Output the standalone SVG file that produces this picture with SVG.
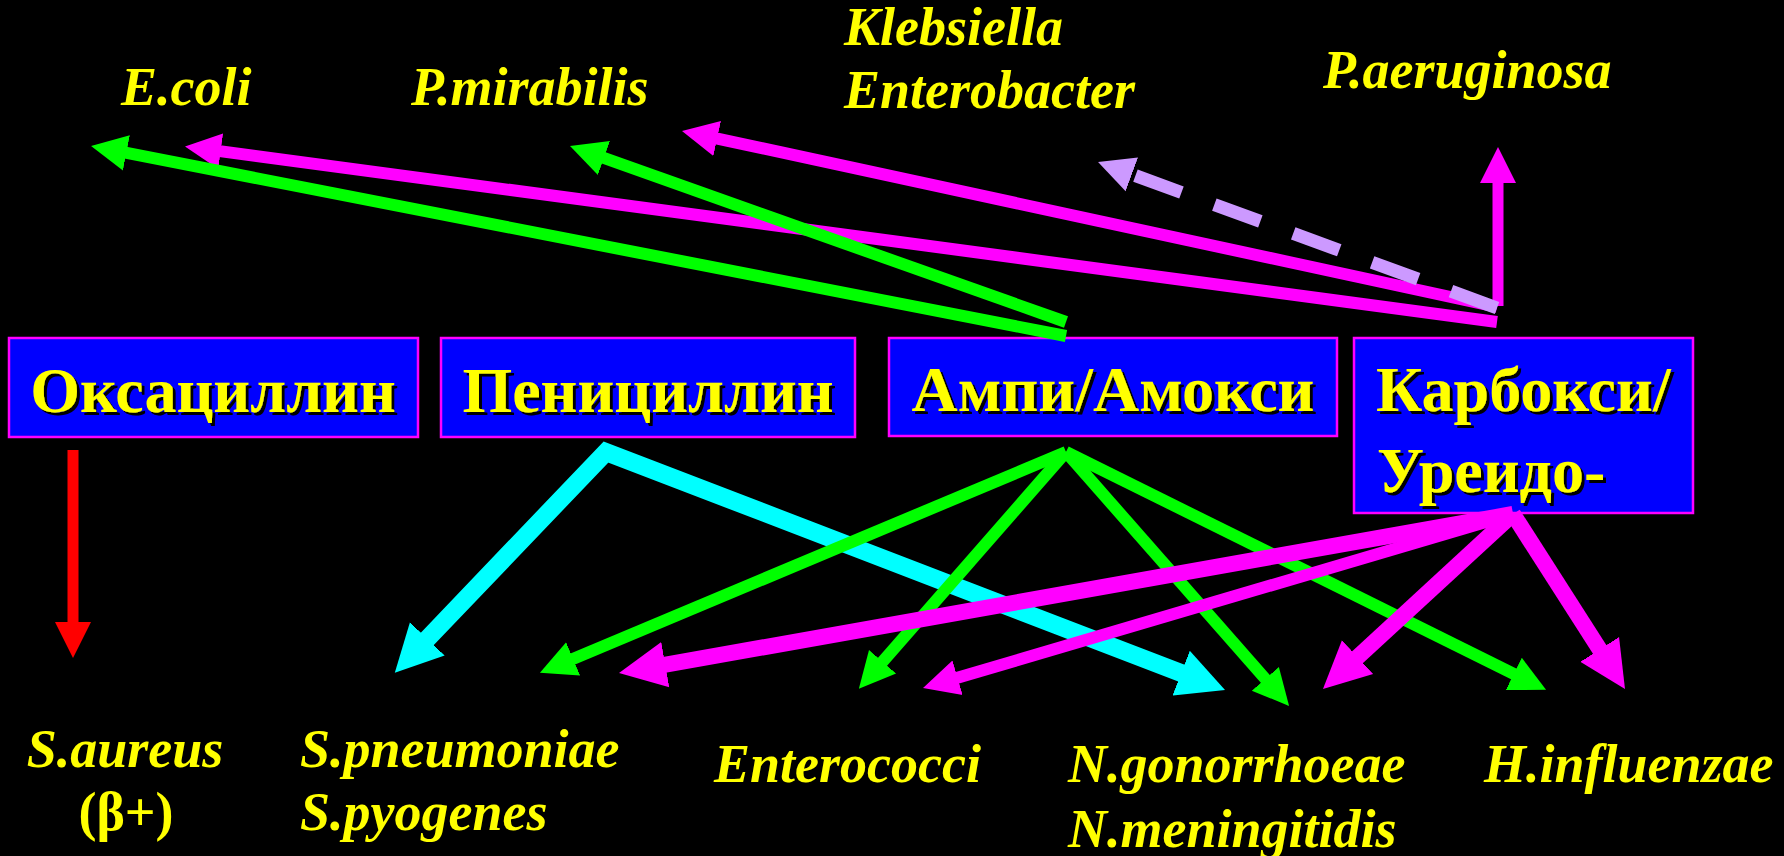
<svg xmlns="http://www.w3.org/2000/svg" width="1784" height="856" viewBox="0 0 1784 856">
  <style>
    .box { fill: #0000FF; stroke: #FF00FF; stroke-width: 2.5; }
    .drug { font-family: "Liberation Serif", "Times New Roman", serif; font-weight: bold; font-size: 64px; fill: #FFFF00; filter: url(#shadow); }
    .bug { font-family: "Liberation Serif", "Times New Roman", serif; font-weight: bold; font-style: italic; font-size: 54px; fill: #FFFF00; }
    .plain { font-style: normal; }
    .ln { fill: none; stroke-linecap: butt; stroke-linejoin: miter; }
    .green { stroke: #00FF00; stroke-width: 12; }
    .magenta { stroke: #FF00FF; stroke-width: 12; }
    .magenta-thick { stroke: #FF00FF; stroke-width: 16; }
    .cyan { stroke: #00FFFF; stroke-width: 18; }
    .red { stroke: #FF0000; stroke-width: 11; }
    .lavender { stroke: #CC99FF; stroke-width: 13; stroke-dasharray: 49 35; }
  </style>
  <defs>
    <filter id="shadow" x="-5%" y="-5%" width="115%" height="125%">
      <feDropShadow dx="3" dy="3" stdDeviation="0" flood-color="#000000" flood-opacity="1"/>
    </filter>
    <!-- small heads: 35 long, 36 wide -->
    <marker id="hs-green" markerUnits="userSpaceOnUse" viewBox="-1 -19 38 38" markerWidth="38" markerHeight="38" refX="0" refY="0" orient="auto">
      <path d="M-1,-18 L35,0 L-1,18 Z" fill="#00FF00"/>
    </marker>
    <marker id="hs-magenta" markerUnits="userSpaceOnUse" viewBox="-1 -19 38 38" markerWidth="38" markerHeight="38" refX="0" refY="0" orient="auto">
      <path d="M-1,-18 L35,0 L-1,18 Z" fill="#FF00FF"/>
    </marker>
    <marker id="hs-red" markerUnits="userSpaceOnUse" viewBox="-1 -19 38 38" markerWidth="38" markerHeight="38" refX="0" refY="0" orient="auto">
      <path d="M-1,-18 L35,0 L-1,18 Z" fill="#FF0000"/>
    </marker>
    <marker id="hs-lavender" markerUnits="userSpaceOnUse" viewBox="-1 -19 38 38" markerWidth="38" markerHeight="38" refX="0" refY="0" orient="auto">
      <path d="M-1,-18 L35,0 L-1,18 Z" fill="#CC99FF"/>
    </marker>
    <!-- large heads: 46 long, 48 wide -->
    <marker id="hl-magenta" markerUnits="userSpaceOnUse" viewBox="-1 -25 48 50" markerWidth="48" markerHeight="50" refX="0" refY="0" orient="auto">
      <path d="M-1,-23 L46,0 L-1,23 Z" fill="#FF00FF"/>
    </marker>
    <marker id="hl-cyan" markerUnits="userSpaceOnUse" viewBox="-1 -25 48 50" markerWidth="48" markerHeight="50" refX="0" refY="0" orient="auto-start-reverse">
      <path d="M-1,-24 L46,0 L-1,24 Z" fill="#00FFFF"/>
    </marker>
  </defs>

  <rect width="1784" height="856" fill="#000000"/>

  <!-- drug boxes -->
  <g id="oxacillin">
    <rect class="box" x="9" y="338" width="409" height="99"/>
    <text class="drug" x="213" y="412" text-anchor="middle">Оксациллин</text>
  </g>
  <g id="penicillin">
    <rect class="box" x="441" y="338" width="414" height="99"/>
    <text class="drug" x="648" y="412" text-anchor="middle">Пенициллин</text>
  </g>
  <g id="ampi-amoxi">
    <rect class="box" x="889" y="338" width="448" height="98"/>
    <text class="drug" x="1113" y="411" text-anchor="middle">Ампи/Амокси</text>
  </g>
  <g id="carboxy-ureido">
    <rect class="box" x="1354" y="338" width="339" height="175"/>
    <text class="drug" x="1376" y="411">Карбокси/</text>
    <text class="drug" x="1377" y="492">Уреидо-</text>
  </g>

  <!-- organisms -->
  <g id="e-coli"><text class="bug" x="121" y="105">E.coli</text></g>
  <g id="p-mirabilis"><text class="bug" x="411" y="105">P.mirabilis</text></g>
  <g id="klebsiella-enterobacter">
    <text class="bug" x="844" y="45">Klebsiella</text>
    <text class="bug" x="844" y="108">Enterobacter</text>
  </g>
  <g id="p-aeruginosa"><text class="bug" x="1323" y="88">P.aeruginosa</text></g>
  <g id="s-aureus">
    <text class="bug" x="125" y="767" text-anchor="middle">S.aureus</text>
    <text class="bug plain" x="126" y="830" text-anchor="middle">(β+)</text>
  </g>
  <g id="streptococci">
    <text class="bug" x="300" y="767">S.pneumoniae</text>
    <text class="bug" x="300" y="830">S.pyogenes</text>
  </g>
  <g id="enterococci"><text class="bug" x="714" y="782">Enterococci</text></g>
  <g id="neisseria">
    <text class="bug" x="1068" y="782">N.gonorrhoeae</text>
    <text class="bug" x="1068" y="847">N.meningitidis</text>
  </g>
  <g id="h-influenzae"><text class="bug" x="1484" y="782">H.influenzae</text></g>

  <!-- connectors -->
  <g id="connectors">
    <!-- carboxy/ureido upward -->
    <path class="ln magenta" d="M1497,322 L219.7,151.1" marker-end="url(#hs-magenta)"/>
    <path class="ln magenta" d="M1497,307 L716.2,138.3" marker-end="url(#hs-magenta)"/>
    <path class="ln magenta" d="M1498,306 L1498,182" style="stroke-width:11" marker-end="url(#hs-magenta)"/>
    <path class="ln lavender" d="M1497,308 L1130.9,174" marker-end="url(#hs-lavender)"/>
    <!-- ampi/amoxi upward -->
    <path class="ln green" d="M1066,336 L125.4,152.7" marker-end="url(#hs-green)"/>
    <path class="ln green" d="M1066,322 L603,157.7" marker-end="url(#hs-green)"/>
    <!-- penicillin downward -->
    <path class="ln cyan" d="M426.6,639.6 L606,452 L1182.1,673.4" marker-start="url(#hl-cyan)" marker-end="url(#hl-cyan)"/>
    <!-- ampi/amoxi downward -->
    <path class="ln green" d="M1066,452 L572.2,659.3" marker-end="url(#hs-green)"/>
    <path class="ln green" d="M1066,452 L881.9,662.5" marker-end="url(#hs-green)"/>
    <path class="ln green" d="M1066,452 L1266,679.6" marker-end="url(#hs-green)"/>
    <path class="ln green" d="M1066,452 L1514.7,674.3" marker-end="url(#hs-green)"/>
    <!-- carboxy/ureido downward -->
    <path class="ln magenta-thick" d="M1513,514 L664.3,664.9" marker-end="url(#hl-magenta)"/>
    <path class="ln magenta" d="M1513,514 L956.6,678.1" marker-end="url(#hs-magenta)"/>
    <path class="ln magenta-thick" d="M1513,514 L1356.8,657.8" marker-end="url(#hl-magenta)"/>
    <path class="ln magenta-thick" d="M1513,514 L1600.2,650.3" marker-end="url(#hl-magenta)"/>
    <!-- oxacillin downward -->
    <path class="ln red" d="M73,450 L73,623" marker-end="url(#hs-red)"/>
  </g>
</svg>
